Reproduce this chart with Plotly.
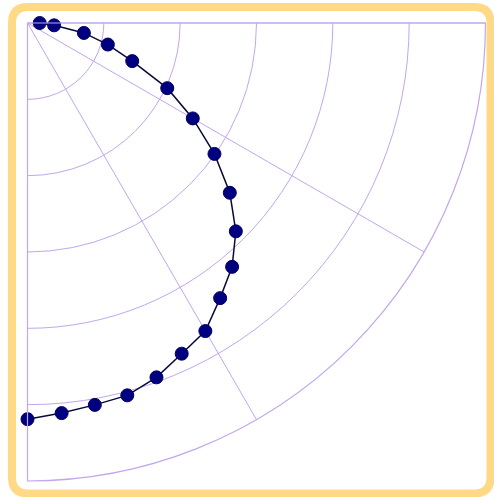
import plotly.graph_objects as go

# Data (angle in degrees, clockwise from east; radius in grid units)
theta_deg = [0, 5, 10, 15, 20, 25, 30, 35, 40, 45, 50, 55, 60, 65, 70, 75, 80, 85, 90]
r_values = [0.16, 0.35, 0.75, 1.09, 1.46, 2.02, 2.50, 2.99, 3.46, 3.86,
            4.17, 4.40, 4.66, 4.78, 4.94, 5.05, 5.08, 5.13, 5.19]
radial_ticks = [0, 1, 2, 3, 4, 5, 6]
angular_step = 30

W, H = 494, 497
GRID = "#C2A6EE"
BORDER = "#FFD986"

fig = go.Figure()
fig.add_trace(go.Scatterpolar(
    r=r_values, theta=theta_deg, mode="lines+markers",
    line=dict(color="#0A0A3A", width=1.5),
    marker=dict(color="#000080", size=13, line=dict(color="#000060", width=1)),
    showlegend=False, hoverinfo="skip",
))

def px(x):
    return x / W

def py(y):
    return 1 - y / H

# rounded border path (paper coords)
L, T, R, B, c = 12, 7, 490.5, 493.5, 16
path = (f"M {px(L + c)},{py(T)} L {px(R - c)},{py(T)} Q {px(R)},{py(T)} {px(R)},{py(T + c)} "
        f"L {px(R)},{py(B - c)} Q {px(R)},{py(B)} {px(R - c)},{py(B)} "
        f"L {px(L + c)},{py(B)} Q {px(L)},{py(B)} {px(L)},{py(B - c)} "
        f"L {px(L)},{py(T + c)} Q {px(L)},{py(T)} {px(L + c)},{py(T)} Z")

ox, oy, rad = 27.5, 23.0, 458.0
fig.update_layout(
    width=W, height=H,
    margin=dict(l=0, r=0, t=0, b=0),
    paper_bgcolor="white",
    polar=dict(
        bgcolor="white",
        domain=dict(x=[px(ox), px(ox + rad)], y=[py(oy + rad), py(oy)]),
        sector=[270, 360],
        radialaxis=dict(range=[0, 6], tickvals=radial_ticks, showticklabels=False,
                        ticks="", showline=False, gridcolor=GRID, gridwidth=1.2, angle=0),
        angularaxis=dict(direction="clockwise", rotation=0, tickmode="linear", tick0=0,
                         dtick=angular_step, showgrid=True,
                         showticklabels=False, ticks="", showline=True, linecolor=GRID,
                         linewidth=1.2, gridcolor=GRID, gridwidth=1.2),
    ),
    shapes=[dict(type="path", xref="paper", yref="paper", path=path,
                 line=dict(color=BORDER, width=8), fillcolor="rgba(0,0,0,0)", layer="above")],
)

fig.write_html("out.html", config={"displayModeBar": False},
               post_script="document.body.style.margin='0';document.body.style.overflow='hidden';")
